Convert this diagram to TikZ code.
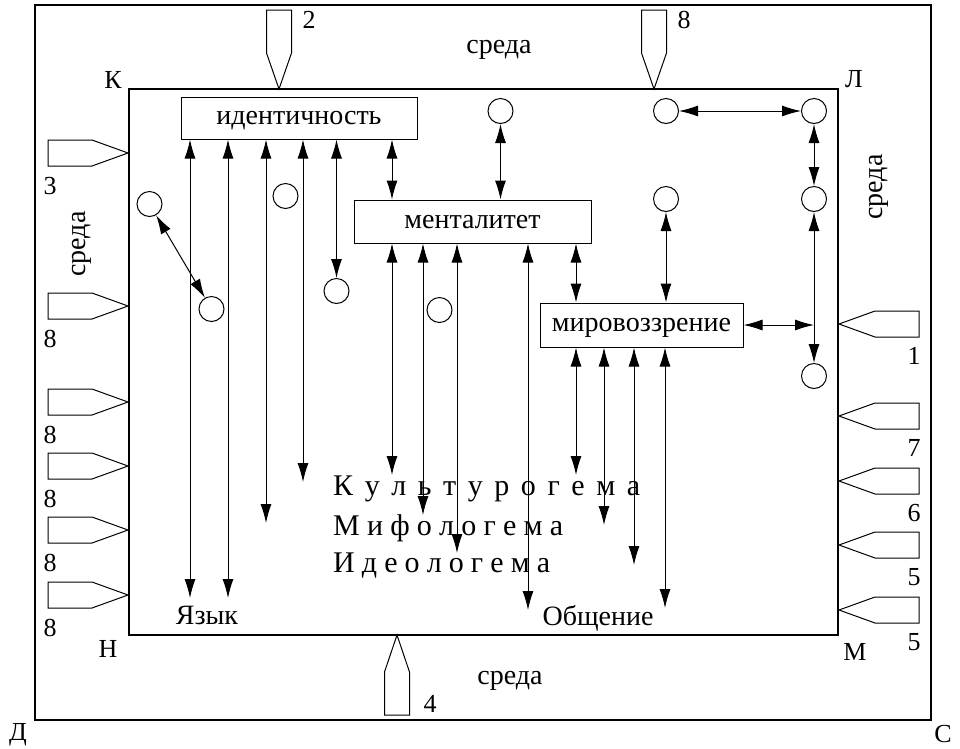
\documentclass[tikz,border=0pt]{standalone}
\usepackage{fontspec}
\setmainfont{Liberation Serif}
\usetikzlibrary{arrows.meta}

\begin{document}
\begin{tikzpicture}[x=1pt,y=-1pt,
    >={Latex[length=19pt,width=11pt]},
    every node/.style={font=\fontsize{26}{30}\selectfont,inner sep=1pt},
    slovo/.style={anchor=base,font=\fontsize{28}{32}\selectfont},
    kotak/.style={draw,line width=1pt,inner sep=0pt,text depth=0pt,font=\fontsize{28}{32}\selectfont},
    bulat/.style={draw,circle,line width=1pt,minimum size=25pt,inner sep=0pt},
    panah/.style={draw,line width=1pt},
    hub/.style={<->,line width=1pt},
    jarang/.style={anchor=base west,inner sep=0pt,font=\fontsize{30}{34}\selectfont}]
    \useasboundingbox (0,0) rectangle (960,748);

    % Рамки
    \draw[line width=1.2pt] (35,5) rectangle (931,720);
    \draw[line width=1.2pt] (129,89) rectangle (838,635);

    % Стрелки-входы
    \foreach \ty/\num in {153/3,306/8,402/8,466/8,530/8,595/8}{
        \draw[panah] (48,\ty-13) -- (92,\ty-13) -- (128,\ty) -- (92,\ty+13) -- (48,\ty+13) -- cycle;
        \node[anchor=base] (nl\ty) at (50,\ty+41) {\num};
    }
    \foreach \ty/\num in {324/1,416/7,481/6,545/5,610/5}{
        \draw[panah] (919,\ty-13) -- (875,\ty-13) -- (839,\ty) -- (875,\ty+13) -- (919,\ty+13) -- cycle;
        \node[anchor=base] (nr\ty) at (914,\ty+40) {\num};
    }
    \foreach \tx/\num in {279/2,654/8}{
        \draw[panah] (\tx-12.5,10) -- (\tx+12.5,10) -- (\tx+12.5,53) -- (\tx,89) -- (\tx-12.5,53) -- cycle;
        \node[anchor=base] (nt\tx) at (\tx+30,28) {\num};
    }
    \draw[panah] (397,635) -- (409.5,672) -- (409.5,715) -- (384.5,715) -- (384.5,672) -- cycle;
    \node[anchor=base] (nb4) at (430,712) {4};

    % Среда и углы
    \node[slovo] (sr1) at (499,53) {среда};
    \node[slovo] (sr2) at (510,684) {среда};
    \node[slovo,anchor=center,rotate=90] (sr3) at (82,244) {среда};
    \node[slovo,anchor=center,rotate=90] (sr4) at (879,187) {среда};
    \node[anchor=base] (K) at (113,88) {К};
    \node[anchor=base] (L) at (854,87) {Л};
    \node[anchor=base] (N) at (108,657) {Н};
    \node[anchor=base] (M) at (855,660) {М};
    \node[anchor=base] (D) at (18,740) {Д};
    \node[anchor=base] (S) at (943,742) {С};

    % Блоки
    \node[kotak,minimum width=236pt,minimum height=42pt] (ident) at (299,118) {идентичность};
    \node[kotak,minimum width=237pt,minimum height=43pt] (mental) at (472.5,221.5) {менталитет};
    \node[kotak,minimum width=203pt,minimum height=44pt] (mir) at (641.5,325) {мировоззрение};

    % Кружки
    \node[bulat] (c1) at (149.5,204) {};
    \node[bulat] (c2) at (211.5,309) {};
    \node[bulat] (c3) at (285.5,196) {};
    \node[bulat] (c4) at (336.5,291) {};
    \node[bulat] (c5) at (439.5,310) {};
    \node[bulat] (c6) at (500.5,111) {};
    \node[bulat] (c7) at (666,111) {};
    \node[bulat] (c8) at (814,111) {};
    \node[bulat] (c9) at (814,199) {};
    \node[bulat] (c10) at (666,199) {};
    \node[bulat] (c11) at (814,376) {};

    % Нижние надписи
    \node[jarang] (kult) at (333,495) {\makebox[307pt][s]{К у л ь т у р о г е м а}};
    \node[jarang] (mif) at (333,535) {\makebox[230pt][s]{М и ф о л о г е м а}};
    \node[jarang] (ideo) at (333,572) {\makebox[217pt][s]{И д е о л о г е м а}};
    \node[slovo] (yazyk) at (207,624) {Язык};
    \node[slovo] (obsh) at (598,625) {Общение};

    % Концы стрелок
    \coordinate (yaz1) at (190,598);
    \coordinate (yaz2) at (228,598);
    \coordinate (i3) at (266,523);
    \coordinate (i4) at (303,482);
    \coordinate (m1) at (392,475);
    \coordinate (m2) at (423,515);
    \coordinate (m3) at (457,553);
    \coordinate (obs1) at (528,610);
    \coordinate (w1) at (576,475);
    \coordinate (w2) at (604,525);
    \coordinate (w3) at (634,565);
    \coordinate (obs2) at (665,608);

    % Связи
    \foreach \e in {yaz1,yaz2,i3,i4} \draw[hub] (ident.south -| \e) -- (\e);
    \draw[hub] (ident.south -| c4) -- (c4);
    \draw[hub] (ident.south -| m1) -- (mental.north -| m1);
    \foreach \e in {m1,m2,m3,obs1} \draw[hub] (mental.south -| \e) -- (\e);
    \draw[hub] (mental.south -| w1) -- (mir.north -| w1);
    \foreach \e in {w1,w2,w3,obs2} \draw[hub] (mir.south -| \e) -- (\e);
    \draw[hub] (c6) -- (mental.north -| c6);
    \draw[hub] (c10) -- (mir.north -| c10);
    \draw[hub] (c7) -- (c8);
    \draw[hub] (c8) -- (c9);
    \draw[hub] (c9) -- (c11);
    \draw[hub] (mir.east) -- (mir.east -| c9);
    \draw[hub] (c1) -- (c2);
\end{tikzpicture}
\end{document}
